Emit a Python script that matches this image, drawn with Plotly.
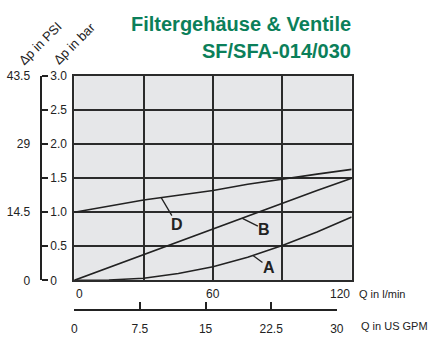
import numpy as np
import plotly.graph_objects as go

# ---- data ----
q_lmin = [0, 15, 30, 45, 60, 75, 90, 105, 120]
dp_D = [1.00, 1.09, 1.18, 1.25, 1.32, 1.41, 1.49, 1.56, 1.63]
dp_B = [0.00, 0.19, 0.38, 0.56, 0.75, 0.94, 1.14, 1.32, 1.50]
dp_A = [0.00, 0.005, 0.03, 0.10, 0.20, 0.34, 0.51, 0.71, 0.93]

curve_names = ["D", "B", "A"]
label_q = [37.6, 72.7, 77.3]          # where leader lines touch the curves
label_off = [(16, 27), (22, 11), (16, 12)]  # text offsets (px)

x_ticks_lmin = [0, 60, 120]
x_grid_lmin = [0, 30, 60, 90, 120]
gpm_ticks = [0, 7.5, 15, 22.5, 30]
gpm_text = ["0", "7.5", "15", "22.5", "30"]
bar_ticks = [0, 0.5, 1.0, 1.5, 2.0, 2.5, 3.0]
bar_text = ["0", "0.5", "1.0", "1.5", "2.0", "2.5", "3.0"]
psi_ticks = [0, 14.5, 29, 43.5]
psi_text = ["0", "14.5", "29", "43.5"]

title1 = "Filtergehäuse & Ventile"
title2 = "SF/SFA-014/030"

# ---- layout constants ----
W, H = 429, 342
FONT = "Liberation Sans, Arial, sans-serif"
INK = "#222222"
GREEN = "#0b7f5a"
px0, px1 = 73, 357
py_top, py_bot = 72, 285
LMIN_PER_GPM = 3.785411784

def fx(px):
    return px / W

def fy(py):
    return 1 - py / H

fig = go.Figure()
series = {"D": dp_D, "B": dp_B, "A": dp_A}
for name in curve_names:
    fig.add_trace(go.Scatter(x=q_lmin, y=series[name], mode="lines",
                             line=dict(color=INK, width=1.6),
                             showlegend=False, hoverinfo="skip"))
# empty traces so that the secondary (free) axes get drawn
fig.add_trace(go.Scatter(x=[None], y=[None], xaxis="x2", yaxis="y2",
                         showlegend=False, hoverinfo="skip"))
fig.add_trace(go.Scatter(x=[None], y=[None], xaxis="x2", yaxis="y3",
                         showlegend=False, hoverinfo="skip"))

annotations = []
for name, qv, (ax, ay) in zip(curve_names, label_q, label_off):
    yv = float(np.interp(qv, q_lmin, series[name]))
    annotations.append(dict(x=qv, y=yv, xref="x", yref="y", text=name,
                            showarrow=True, arrowhead=0, arrowwidth=1.3,
                            arrowcolor=INK, ax=ax, ay=ay, borderpad=0,
                            font=dict(family=FONT, size=16, color=INK, weight="bold")))

# main x tick labels (l/min)
for v, anc in zip(x_ticks_lmin, ["left", "center", "right"]):
    annotations.append(dict(x=v, y=fy(299), xref="x", yref="paper", text=str(v),
                            showarrow=False, xanchor=anc, yanchor="middle",
                            font=dict(family=FONT, size=12, color=INK)))
annotations.append(dict(x=fx(362), y=fy(299), xref="paper", yref="paper",
                        text="Q in l/min", showarrow=False, xanchor="left",
                        yanchor="middle", font=dict(family=FONT, size=11, color=INK)))
annotations.append(dict(x=fx(364), y=fy(333), xref="paper", yref="paper",
                        text="Q in US GPM", showarrow=False, xanchor="left",
                        yanchor="middle", font=dict(family=FONT, size=11, color=INK)))
# rotated axis titles
annotations.append(dict(x=fx(38), y=fy(38), xref="paper", yref="paper",
                        text="Δp in PSI", showarrow=False, textangle=-45,
                        xanchor="center", yanchor="middle",
                        font=dict(family=FONT, size=13, color=INK)))
annotations.append(dict(x=fx(73), y=fy(38), xref="paper", yref="paper",
                        text="Δp in bar", showarrow=False, textangle=-45,
                        xanchor="center", yanchor="middle",
                        font=dict(family=FONT, size=13, color=INK)))
# title
annotations.append(dict(x=fx(358), y=fy(18), xref="paper", yref="paper",
                        text=title1, showarrow=False, xanchor="right", yanchor="middle",
                        font=dict(family=FONT, size=20, color=GREEN, weight="bold")))
annotations.append(dict(x=fx(358), y=fy(46), xref="paper", yref="paper",
                        text=title2, showarrow=False, xanchor="right", yanchor="middle",
                        font=dict(family=FONT, size=20, color=GREEN, weight="bold")))

xdom = [fx(px0), fx(px1)]
ydom = [fy(py_bot), fy(py_top)]
gpm_right_px = px0 + (px1 - px0) * (30 * LMIN_PER_GPM) / 120

fig.update_layout(
    width=W, height=H, margin=dict(l=0, r=0, t=0, b=0),
    paper_bgcolor="white", plot_bgcolor="rgba(0,0,0,0)",
    font=dict(family=FONT, size=12, color=INK),
    showlegend=False,
    annotations=annotations,
    shapes=[dict(type="rect", xref="x domain", yref="y domain", x0=0, x1=1,
                 y0=0, y1=1, fillcolor="#e6e7e9", line_width=0, layer="below")],
    xaxis=dict(domain=xdom, range=[0, 120], tickvals=x_grid_lmin,
               showticklabels=False, ticks="", showgrid=True,
               gridcolor="#2b2b2b", gridwidth=1.6, zeroline=False,
               showline=True, mirror=True, linecolor="#2b2b2b", linewidth=2,
               fixedrange=True),
    yaxis=dict(domain=ydom, range=[0, 3], tickvals=bar_ticks,
               showticklabels=False, ticks="", showgrid=True,
               gridcolor="#2b2b2b", gridwidth=1.6, zeroline=False,
               showline=True, mirror=True, linecolor="#2b2b2b", linewidth=2,
               fixedrange=True),
    xaxis2=dict(domain=[fx(px0), fx(gpm_right_px)], range=[0, 30],
                anchor="free", position=fy(316), side="bottom",
                tickvals=gpm_ticks, ticktext=gpm_text, ticks="inside",
                ticklen=7, tickwidth=1.5, tickcolor=INK,
                showline=True, linecolor=INK, linewidth=1.5,
                showgrid=False, zeroline=False, ticklabelstandoff=8,
                fixedrange=True,
                tickfont=dict(family=FONT, size=12, color=INK)),
    yaxis2=dict(domain=ydom, anchor="free", position=fx(39), side="right",
                range=[0, 3], tickvals=bar_ticks, ticktext=bar_text,
                ticks="outside", ticklen=6, tickwidth=1.5, tickcolor=INK,
                showline=True, linecolor=INK, linewidth=1.5,
                showgrid=False, zeroline=False, ticklabelstandoff=0,
                fixedrange=True,
                tickfont=dict(family=FONT, size=12, color=INK)),
    yaxis3=dict(domain=ydom, anchor="free", position=fx(39), side="left",
                range=[0, 43.5], tickvals=psi_ticks, ticktext=psi_text,
                ticks="", showline=False, showgrid=False, zeroline=False,
                ticklabelstandoff=11, fixedrange=True,
                tickfont=dict(family=FONT, size=12, color=INK)),
)

fig.write_html("out.html", config={"displayModeBar": False},
               post_script="document.body.style.margin='0';")
